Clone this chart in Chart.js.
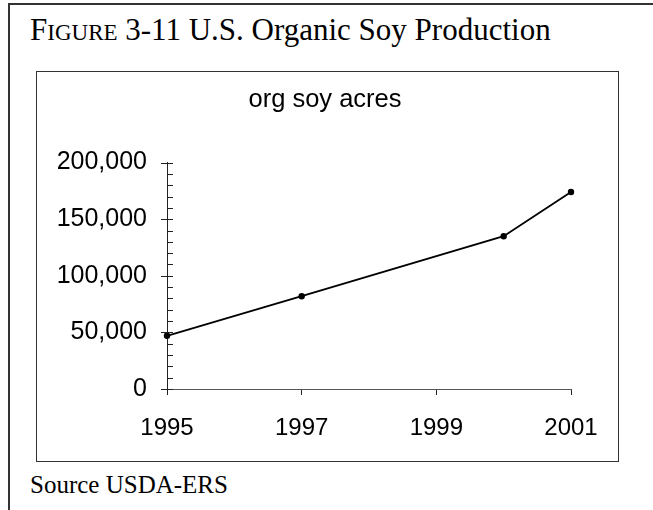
<!DOCTYPE html>
<html>
<head>
<meta charset="utf-8">
<script src="https://cdn.jsdelivr.net/npm/chart.js@4/dist/chart.umd.min.js"></script>
<style>
  html, body { margin: 0; padding: 0; background: #fff; }
  body { width: 653px; height: 510px; position: relative; overflow: hidden; }
  #frame-top { position: absolute; left: 8px; top: 3px; width: 645px; height: 0; border-top: 2px solid #333; }
  #frame-left { position: absolute; left: 8px; top: 3px; width: 0; height: 507px; border-left: 2px solid #333; }
  #caption { position: absolute; left: 30px; top: 12px; font-family: "Liberation Serif", "Times New Roman", serif;
             font-size: 31px; color: #000; white-space: nowrap; }
  #caption .sc { font-size: 23px; }
  #box { position: absolute; left: 36px; top: 71px; width: 581px; height: 389px; border: 1.5px solid #333; }
  #source { position: absolute; left: 30px; top: 471px; font-family: "Liberation Serif", "Times New Roman", serif;
            font-size: 25px; color: #000; white-space: nowrap; }
  #js-chart { position: absolute; left: 0; top: 0; }
</style>
</head>
<body>
<div id="frame-top"></div>
<div id="frame-left"></div>
<div id="caption">F<span class="sc">IGURE</span> 3-11 U.S. Organic Soy Production</div>
<div id="box"></div>
<div id="source">Source USDA-ERS</div>
<canvas id="js-chart" width="653" height="510"></canvas>
<script>
// данные с картинки
const years = [1995, 1997, 2000, 2001];
const acres = [47000, 82000, 135000, 174000];
const xTicks = [1995, 1997, 1999, 2001];
const yTicks = [0, 10000, 20000, 30000, 40000, 50000, 60000, 70000, 80000, 90000, 100000,
  110000, 120000, 130000, 140000, 150000, 160000, 170000, 180000, 190000, 200000];
const yLabelStep = 50000;

// мелкие и крупные засечки по оси Y (крупные пересекают ось, мелкие внутрь)
const yTickMarks = {
  id: 'yTickMarks',
  afterDraw(chart) {
    const { ctx } = chart;
    const y = chart.scales.y;
    const x0 = y.right;
    ctx.save();
    ctx.strokeStyle = '#222';
    ctx.lineWidth = 1;
    y.ticks.forEach(t => {
      const py = Math.round(y.getPixelForValue(t.value)) + 0.5;
      const major = t.value % yLabelStep === 0;
      ctx.beginPath();
      ctx.moveTo(major ? x0 - 6 : x0, py);
      ctx.lineTo(x0 + 6, py);
      ctx.stroke();
    });
    ctx.restore();
  },
};

const ctx = document.querySelector('#js-chart').getContext('2d');

const myChart = new Chart(ctx, {
  type: 'line',
  data: {
    datasets: [
      {
        label: 'org soy acres',
        data: years.map((yr, i) => ({ x: yr, y: acres[i] })),
        borderColor: '#000',
        backgroundColor: '#000',
        borderWidth: 1.8,
        pointRadius: 3.2,
        pointBorderWidth: 0,
        fill: false,
        tension: 0,
        clip: false,
      },
    ],
  },
  options: {
    responsive: false,
    animation: false,
    layout: { padding: { left: 0, right: 3, top: 0, bottom: 0 } },
    plugins: {
      legend: { display: false },
      tooltip: { enabled: false },
      title: {
        display: true,
        text: 'org soy acres',
        color: '#000',
        font: { family: 'Liberation Sans, Arial, sans-serif', size: 25.5, weight: 'normal' },
        padding: { top: 85, bottom: 47 },
      },
    },
    scales: {
      x: {
        type: 'linear',
        min: 1995,
        max: 2001,
        afterBuildTicks: scale => { scale.ticks = xTicks.map(v => ({ value: v })); },
        afterFit: scale => { scale.height = 121; },
        ticks: {
          color: '#000',
          padding: 19,
          autoSkip: false,
          maxRotation: 0,
          font: { family: 'Liberation Sans, Arial, sans-serif', size: 24 },
          callback: v => String(v),
        },
        grid: { drawOnChartArea: false, tickLength: 6, color: '#222' },
        border: { display: true, color: '#555', width: 1 },
      },
      y: {
        min: 0,
        max: 200000,
        afterBuildTicks: scale => { scale.ticks = yTicks.map(v => ({ value: v })); },
        afterFit: scale => { scale.width = 167; },
        ticks: {
          color: '#000',
          padding: 20,
          autoSkip: false,
          font: { family: 'Liberation Sans, Arial, sans-serif', size: 25 },
          callback: v => (v % yLabelStep === 0 ? v.toLocaleString('en-US') : ''),
        },
        grid: { drawOnChartArea: false, drawTicks: false },
        border: { display: true, color: '#222', width: 1 },
      },
      // пустая ось справа, только чтобы заголовок был по центру рамки
      yRight: {
        position: 'right',
        min: 0,
        max: 200000,
        afterFit: scale => { scale.width = 79; },
        ticks: { display: false },
        grid: { display: false },
        border: { display: false },
      },
    },
  },
  plugins: [yTickMarks],
});
</script>
</body>
</html>
